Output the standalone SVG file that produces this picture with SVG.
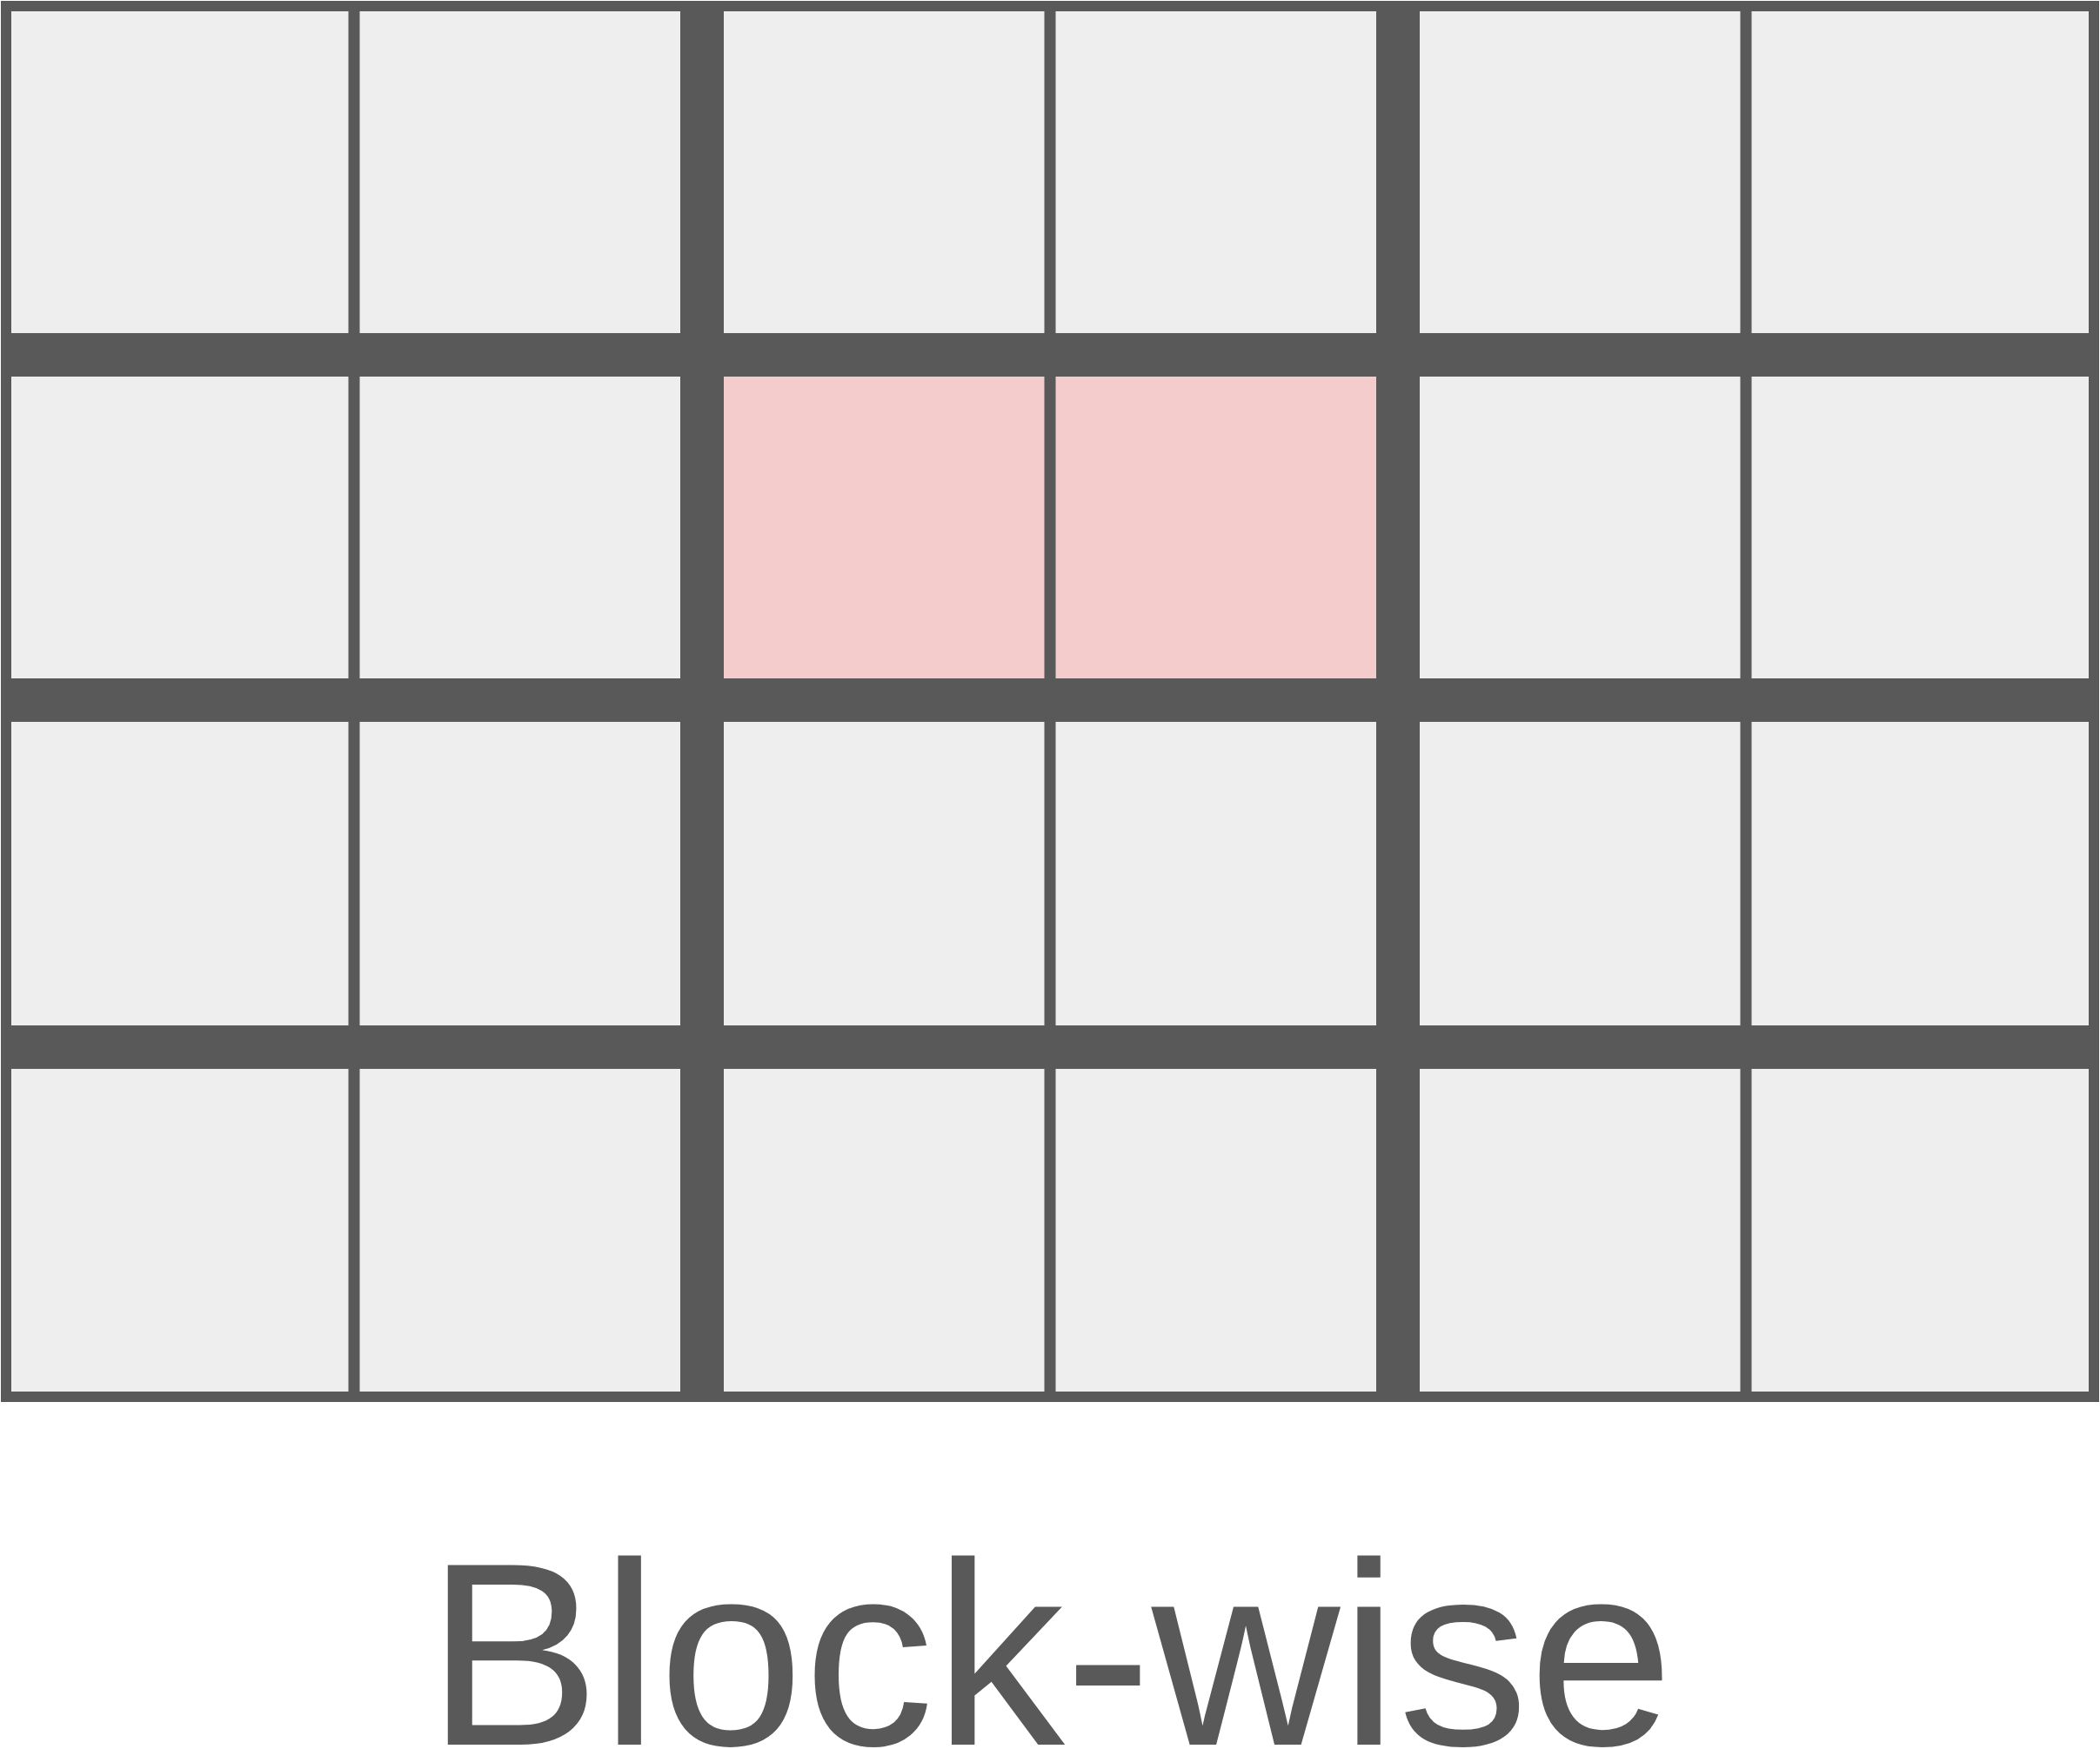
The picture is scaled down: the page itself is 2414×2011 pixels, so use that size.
<svg xmlns="http://www.w3.org/2000/svg" width="2414" height="2011" viewBox="0 0 2414 2011">
<style>
.cell{fill:#eeeeee;stroke:#595959;stroke-width:12}
.hl{fill:#f4cccc}
.thin{stroke:#595959;stroke-width:13;fill:none}
.thick{stroke:#595959;stroke-width:50;fill:none}
.outer{fill:none;stroke:#595959;stroke-width:12}
.label{font-family:"Liberation Sans",Arial,sans-serif;font-size:300px;fill:#595959}
</style>
<rect width="2414" height="2011" fill="#ffffff"/>
<g id="cells">
<g id="cell-r0c0"><rect class="cell" x="7" y="7" width="400" height="401"/></g>
<g id="cell-r0c1"><rect class="cell" x="407" y="7" width="400" height="401"/></g>
<g id="cell-r0c2"><rect class="cell" x="807" y="7" width="400" height="401"/></g>
<g id="cell-r0c3"><rect class="cell" x="1207" y="7" width="400" height="401"/></g>
<g id="cell-r0c4"><rect class="cell" x="1607" y="7" width="400" height="401"/></g>
<g id="cell-r0c5"><rect class="cell" x="2007" y="7" width="400" height="401"/></g>
<g id="cell-r1c0"><rect class="cell" x="7" y="408" width="400" height="397"/></g>
<g id="cell-r1c1"><rect class="cell" x="407" y="408" width="400" height="397"/></g>
<g id="cell-r1c2"><rect class="cell hl" x="807" y="408" width="400" height="397"/></g>
<g id="cell-r1c3"><rect class="cell hl" x="1207" y="408" width="400" height="397"/></g>
<g id="cell-r1c4"><rect class="cell" x="1607" y="408" width="400" height="397"/></g>
<g id="cell-r1c5"><rect class="cell" x="2007" y="408" width="400" height="397"/></g>
<g id="cell-r2c0"><rect class="cell" x="7" y="805" width="400" height="399"/></g>
<g id="cell-r2c1"><rect class="cell" x="407" y="805" width="400" height="399"/></g>
<g id="cell-r2c2"><rect class="cell" x="807" y="805" width="400" height="399"/></g>
<g id="cell-r2c3"><rect class="cell" x="1207" y="805" width="400" height="399"/></g>
<g id="cell-r2c4"><rect class="cell" x="1607" y="805" width="400" height="399"/></g>
<g id="cell-r2c5"><rect class="cell" x="2007" y="805" width="400" height="399"/></g>
<g id="cell-r3c0"><rect class="cell" x="7" y="1204" width="400" height="402"/></g>
<g id="cell-r3c1"><rect class="cell" x="407" y="1204" width="400" height="402"/></g>
<g id="cell-r3c2"><rect class="cell" x="807" y="1204" width="400" height="402"/></g>
<g id="cell-r3c3"><rect class="cell" x="1207" y="1204" width="400" height="402"/></g>
<g id="cell-r3c4"><rect class="cell" x="1607" y="1204" width="400" height="402"/></g>
<g id="cell-r3c5"><rect class="cell" x="2007" y="1204" width="400" height="402"/></g>
</g>
<g id="grid-lines">
<line class="thin" x1="407" y1="1" x2="407" y2="1612"/>
<line class="thin" x1="1207" y1="1" x2="1207" y2="1612"/>
<line class="thin" x1="2007" y1="1" x2="2007" y2="1612"/>
<line class="thick" x1="807" y1="1" x2="807" y2="1612"/>
<line class="thick" x1="1607" y1="1" x2="1607" y2="1612"/>
<line class="thick" x1="1" y1="408" x2="2413" y2="408"/>
<line class="thick" x1="1" y1="805" x2="2413" y2="805"/>
<line class="thick" x1="1" y1="1204" x2="2413" y2="1204"/>
<rect class="outer" x="7" y="7" width="2400" height="1599" rx="3"/>
</g>
<g id="caption">
<text class="label" x="1207" y="2006" text-anchor="middle">Block-wise</text>
</g>
</svg>
